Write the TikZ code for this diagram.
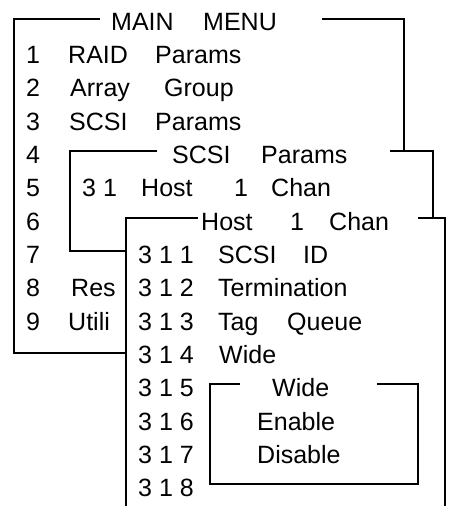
\documentclass[tikz,border=0pt]{standalone}
\usepackage{fontspec}
\newfontfamily\menufont{Liberation Sans}
\begin{document}
\begin{tikzpicture}[x=1pt,y=-1pt,
    frame/.style={line width=1.7pt},
    cover/.style={fill=white},
    txt/.style={anchor=base west, inner sep=0pt,
                font=\menufont\fontsize{25}{25}\selectfont}
  ]
    \useasboundingbox (0,0) rectangle (448,515);
    % main menu
    \draw[frame] (100,19) -- (14,19) -- (14,353) -- (404,353) -- (404,19) -- (322,19);
    \node[txt] (mainA) at (111,30) {MAIN};
    \node[txt] (mainB) at (203,30) {MENU};
    \foreach \k in {1,...,9}
      \node[txt] (num\k) at (26,{30+33.35*\k}) {\k};
    \node[txt] (raid)   at (68,63.35)  {RAID};
    \node[txt] (raidP)  at (155,63.35) {Params};
    \node[txt] (array)  at (70,96.7)   {Array};
    \node[txt] (arrayG) at (164,96.7)  {Group};
    \node[txt] (scsi)   at (69,130.05) {SCSI};
    \node[txt] (scsiP)  at (155,130.05){Params};
    \node[txt] (res)    at (71,296.8)  {Res};
    \node[txt] (util)   at (68,330.15) {Utili};
    % SCSI params
    \fill[cover] (70,151) rectangle (433,251);
    \draw[frame] (157,151) -- (70,151) -- (70,251) -- (433,251) -- (433,151) -- (390,151);
    \node[txt] (scsiA) at (172,163.4) {SCSI};
    \node[txt] (scsiB) at (261,163.4) {Params};
    \node[txt] (num31) at (82,196.75) {3\kern7pt1};
    \node[txt] (hostA) at (141,196.75) {Host};
    \node[txt] (hostB) at (234,196.75) {1};
    \node[txt] (hostC) at (271,196.75) {Chan};
    % host 1 chan
    \fill[cover] (126,218) rectangle (445,506);
    \draw[frame] (198,218) -- (126,218) -- (126,506);
    \draw[frame] (418,218) -- (445,218) -- (445,506);
    \node[txt] (chanA) at (201,230.1) {Host};
    \node[txt] (chanB) at (290,230.1) {1};
    \node[txt] (chanC) at (329,230.1) {Chan};
    \foreach \d in {1,...,8}
      \node[txt] (num31\d) at (138,{30+33.35*(\d+6)}) {3\kern7pt1\kern7pt\d};
    \node[txt] (scsiId)  at (218,263.45) {SCSI};
    \node[txt] (scsiIdB) at (303,263.45) {ID};
    \node[txt] (term)    at (218,296.8)  {Termination};
    \node[txt] (tag)     at (218,330.15) {Tag};
    \node[txt] (tagQ)    at (287,330.15) {Queue};
    \node[txt] (wide)    at (219,363.5)  {Wide};
    % wide
    \draw[frame] (240,384) -- (210,384) -- (210,484) -- (418,484) -- (418,384) -- (377,384);
    \node[txt] (wideT)   at (272,396.85) {Wide};
    \node[txt] (enable)  at (257,430.2)  {Enable};
    \node[txt] (disable) at (257,463.55) {Disable};
\end{tikzpicture}
\end{document}
